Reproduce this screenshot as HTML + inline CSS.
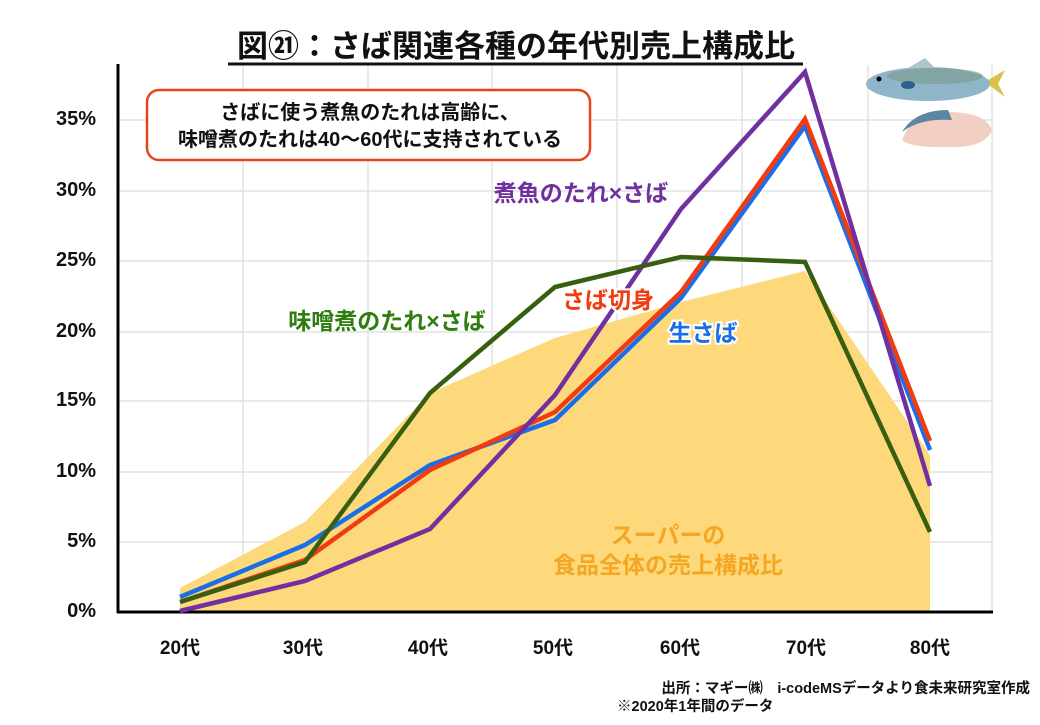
<!DOCTYPE html>
<html><head><meta charset="utf-8"><style>
html,body{margin:0;padding:0;background:#fff;}
body{width:1040px;height:720px;overflow:hidden;position:relative;font-family:"Liberation Sans","Noto Sans CJK JP",sans-serif;}
svg text{font-family:"Liberation Sans","Noto Sans CJK JP",sans-serif;font-weight:bold;}
</style></head><body>
<svg width="1040" height="720" viewBox="0 0 1040 720" xmlns="http://www.w3.org/2000/svg">
<g stroke="#e2e2e2" stroke-width="1.5">
<line x1="118" y1="120" x2="992" y2="120"/><line x1="118" y1="191" x2="992" y2="191"/>
<line x1="118" y1="261" x2="992" y2="261"/><line x1="118" y1="332" x2="992" y2="332"/>
<line x1="118" y1="401" x2="992" y2="401"/><line x1="118" y1="472" x2="992" y2="472"/>
<line x1="118" y1="542" x2="992" y2="542"/>
<line x1="243" y1="65" x2="243" y2="612"/><line x1="368" y1="65" x2="368" y2="612"/>
<line x1="492" y1="65" x2="492" y2="612"/><line x1="617" y1="65" x2="617" y2="612"/>
<line x1="742" y1="65" x2="742" y2="612"/><line x1="868" y1="65" x2="868" y2="612"/>
<line x1="992" y1="65" x2="992" y2="612"/>
</g>
<polygon fill="#fdd97c" points="180,612 180,588 305,522 430,393 555,338 681,302 805,271 930,455 930,612"/>
<line x1="118" y1="64" x2="118" y2="613" stroke="#000" stroke-width="3"/>
<line x1="117" y1="612" x2="993" y2="612" stroke="#000" stroke-width="3"/>
<g fill="none" stroke-width="4.5" stroke-linejoin="miter">
<polyline stroke="#1a6ee8" points="180,597 305,545 430,465 555,420 681,298 805,126 930,450"/>
<polyline stroke="#f03c10" points="180,602 305,560 430,470 555,412 681,292 805,119 930,441"/>
<polyline stroke="#7030a0" points="180,611 305,581 430,529 555,395 681,209 805,72 930,486"/>
<polyline stroke="#375f0f" points="180,602 305,562 430,393 555,287 681,257 805,262 930,532"/>
</g>
<g font-size="20" fill="#111" text-anchor="end">
<text x="96" y="125">35%</text><text x="96" y="196">30%</text><text x="96" y="266">25%</text>
<text x="96" y="337">20%</text><text x="96" y="406">15%</text><text x="96" y="477">10%</text>
<text x="96" y="547">5%</text><text x="96" y="617">0%</text>
</g>
<g font-size="19" fill="#111" text-anchor="middle">
<text x="180" y="654">20代</text><text x="303" y="654">30代</text><text x="428" y="654">40代</text>
<text x="553" y="654">50代</text><text x="680" y="654">60代</text><text x="806" y="654">70代</text>
<text x="930" y="654">80代</text>
</g>
<text x="516" y="57" font-size="31" text-anchor="middle" fill="#111">図㉑：さば関連各種の年代別売上構成比</text>
<line x1="228" y1="64" x2="803" y2="64" stroke="#111" stroke-width="3"/>
<rect x="147" y="90" width="443" height="70" rx="12" fill="#fff" stroke="#e8441a" stroke-width="2.5"/>
<text x="370" y="119" font-size="20" text-anchor="middle" fill="#111">さばに使う煮魚のたれは高齢に、</text>
<text x="370" y="146" font-size="20" text-anchor="middle" fill="#111">味噌煮のたれは40～60代に支持されている</text>
<text x="581" y="201" font-size="23" text-anchor="middle" fill="#7030a0">煮魚のたれ×さば</text>
<text x="608" y="308" font-size="23" text-anchor="middle" fill="#f03c10" stroke="#fff" stroke-width="4" paint-order="stroke">さば切身</text>
<text x="703" y="341" font-size="23" text-anchor="middle" fill="#1a6ee8" stroke="#fff" stroke-width="4" paint-order="stroke">生さば</text>
<text x="387" y="329" font-size="23" text-anchor="middle" fill="#2e7d0f">味噌煮のたれ×さば</text>
<text x="668" y="543" font-size="23" text-anchor="middle" fill="#f5a623">スーパーの</text>
<text x="668" y="573" font-size="23" text-anchor="middle" fill="#f5a623">食品全体の売上構成比</text>
<text x="1030" y="693" font-size="14.5" text-anchor="end" fill="#111">出所：マギー㈱　i-codeMSデータより食未来研究室作成</text>
<text x="617" y="711" font-size="14.5" fill="#111">※2020年1年間のデータ</text>
<g>
<polygon points="985,82 1005,70 998,84 1005,97" fill="#d9c24a"/>
<ellipse cx="928" cy="84" rx="62" ry="17" fill="#8fb5c8"/>
<ellipse cx="935" cy="76" rx="48" ry="8" fill="#7a9a8a" opacity="0.6"/>
<polygon points="908,68 925,58 935,68" fill="#b0c4cc"/>
<circle cx="879" cy="79" r="2.5" fill="#000"/>
<ellipse cx="908" cy="85" rx="7" ry="4" fill="#2c5f8a"/>
<path d="M902,140 Q915,108 948,112 Q985,112 992,130 Q985,148 950,147 Q910,148 902,140 Z" fill="#f1cfc2"/>
<path d="M902,132 Q915,110 948,110 L952,120 Q920,118 902,132 Z" fill="#5b88a0"/>
</g>
</svg>
</body></html>
